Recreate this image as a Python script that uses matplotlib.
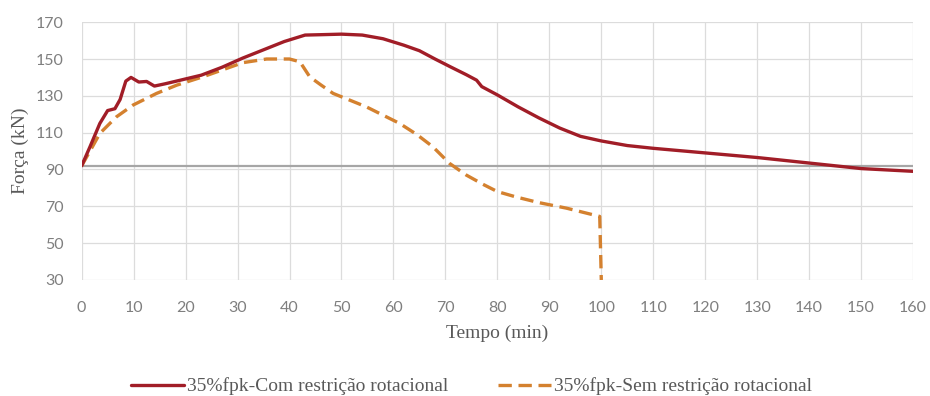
import matplotlib
matplotlib.use("Agg")
import matplotlib.pyplot as plt

# Time (min) and force (kN) for the two restraint conditions
t_com = [0, 1.6, 3.5, 5, 6.4, 7.4, 8.5, 9.5, 11, 12.5, 14, 16, 19, 23, 27, 31, 35,
         39, 43, 46, 50, 54, 58, 62, 65, 68, 71, 74, 76, 77, 80, 84, 88, 92, 96,
         100, 105, 110, 120, 130, 140, 150, 160]
f_com = [92, 102.3, 115, 122, 123, 128, 138, 140, 137.5, 137.8, 135.3, 136.5,
         138.5, 141.2, 145.5, 150.5, 155, 159.5, 163, 163.2, 163.5, 163, 161,
         157.5, 154.5, 150, 145.7, 141.5, 138.5, 135, 130.5, 124, 118, 112.5,
         108, 105.5, 103, 101.5, 99, 96.5, 93.5, 90.5, 89]

t_sem = [0, 2, 3.5, 6.7, 9.9, 14.4, 18.3, 23.5, 27, 31, 35.6, 40, 42, 43.9, 46,
         48.4, 54.8, 61.2, 64.5, 67.6, 70.8, 74, 77.2, 80, 83.7, 88, 93.3, 99.7,
         100]
f_sem = [92, 102, 109.6, 118.6, 125, 131.3, 135.8, 140.5, 144, 148, 150, 150,
         148.5, 140.3, 136, 131.3, 124, 115, 109, 102.3, 93.3, 87, 82, 78, 75,
         72, 69, 64.5, 30]

f_ref = 92  # initial prestressing force

label_com = "35%fpk-Com restrição rotacional"
label_sem = "35%fpk-Sem restrição rotacional"

x_ticks = list(range(0, 161, 10))
y_ticks = list(range(30, 171, 20))

serif = ["Liberation Serif", "DejaVu Serif"]
tick_font = ["Lato", "DejaVu Sans"]

fig = plt.figure(figsize=(9.3, 3.96), dpi=100)
ax = fig.add_axes([0.0878, 0.293, 0.894, 0.651])

ax.axhline(f_ref, color="#a6a6a6", lw=1.6, zorder=2)
ax.plot(t_com, f_com, color="#a11d27", lw=2.4, label=label_com, zorder=4,
        solid_capstyle="round")
ax.plot(t_sem, f_sem, color="#d4812f", lw=2.4, ls=(0, (4, 2)), label=label_sem,
        zorder=3)

ax.set_xlim(0, 160)
ax.set_ylim(30, 170)
ax.set_xticks(x_ticks)
ax.set_yticks(y_ticks)
ax.grid(True, color="#dcdcdc", lw=0.9)
ax.set_axisbelow(True)
for s in ax.spines.values():
    s.set_visible(False)
ax.tick_params(length=0, colors="#7f7f7f", labelsize=11.5, pad=0)
ax.tick_params(axis="x", pad=15)
ax.tick_params(axis="y", pad=13)
for lab in ax.get_xticklabels() + ax.get_yticklabels():
    lab.set_family(tick_font)

ax.set_xlabel("Tempo (min)", family=serif, fontsize=14, color="#595959",
              labelpad=7)
ax.set_ylabel("Força (kN)", family=serif, fontsize=14, color="#595959",
              labelpad=5)

leg = fig.legend(loc="center", bbox_to_anchor=(0.507, 0.024), ncol=2,
                 frameon=False, prop={"family": serif, "size": 14},
                 handlelength=2.7, handletextpad=0.15, columnspacing=2.6)
for txt in leg.get_texts():
    txt.set_color("#595959")

fig.savefig("out.png", dpi=100)
